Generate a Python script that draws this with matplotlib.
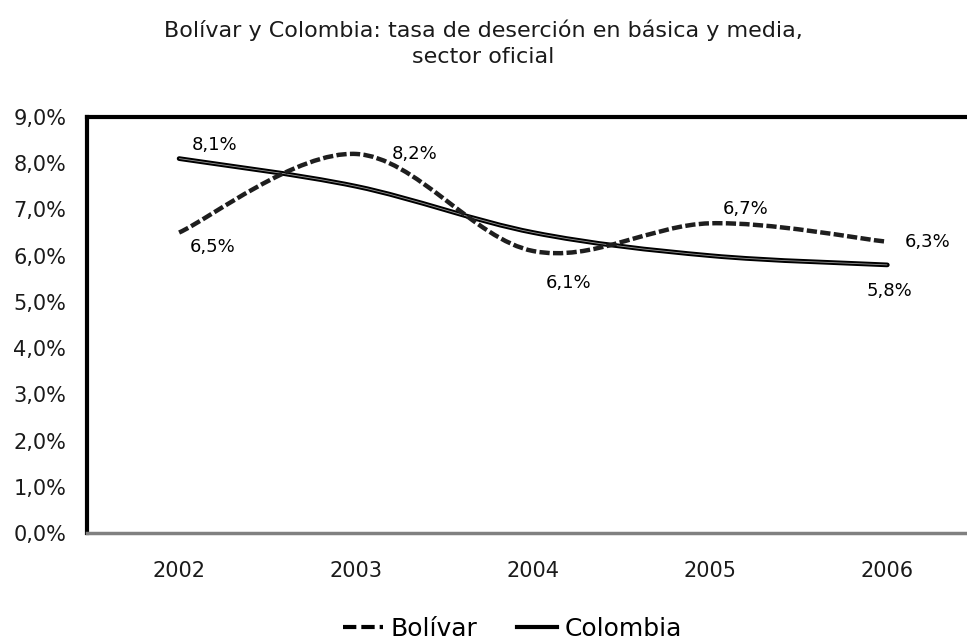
import numpy as np
import matplotlib
matplotlib.use("Agg")
import matplotlib.pyplot as plt
from matplotlib.path import Path
from matplotlib.patches import PathPatch
from matplotlib.lines import Line2D
from matplotlib.ticker import FuncFormatter

years = ["2002", "2003", "2004", "2005", "2006"]
bolivar = [6.5, 8.2, 6.1, 6.7, 6.3]
colombia = [8.1, 7.5, 6.5, 6.0, 5.8]

etiquetas_bol = ["6,5%", "8,2%", "6,1%", "6,7%", "6,3%"]
etiquetas_col = ["8,1%", "", "", "", "5,8%"]

plt.rcParams['font.family'] = ['DejaVu Sans']


def curva_suave(y):
    # curva tipo Excel (Bezier cubica, tension 1/6)
    x = np.arange(len(y), dtype=float)
    p = np.column_stack([x, np.array(y, dtype=float)])
    verts = [p[0]]
    codes = [Path.MOVETO]
    n = len(p)
    for i in range(n - 1):
        p0 = p[i - 1] if i > 0 else p[i]
        p3 = p[i + 2] if i + 2 < n else p[i + 1]
        c1 = p[i] + (p[i + 1] - p0) / 6
        c2 = p[i + 1] - (p3 - p[i]) / 6
        verts += [c1, c2, p[i + 1]]
        codes += [Path.CURVE4] * 3
    return Path(verts, codes)


fig = plt.figure(figsize=(9.67, 6.41), dpi=100)
ax = fig.add_axes([0.09, 0.1685, 0.91, 0.649])

# Colombia: linea continua
ax.add_patch(PathPatch(curva_suave(colombia), fill=False, lw=3.4, color="black", capstyle="round", zorder=3))
ax.add_patch(PathPatch(curva_suave(colombia), fill=False, lw=0.6, color="#9a9a9a", zorder=3))

# Bolívar: linea discontinua
ax.add_patch(PathPatch(curva_suave(bolivar), fill=False, lw=3.2, color="#1e1e1e",
                       linestyle=(0, (2.3, 0.75)), zorder=4))

# etiquetas de datos
fs = 13
ax.text(0 + 0.06, bolivar[0] - 0.12, etiquetas_bol[0], ha="left", va="top", fontsize=fs)
ax.text(1 + 0.33, bolivar[1], etiquetas_bol[1], ha="center", va="center", fontsize=fs)
ax.text(2 + 0.2, bolivar[2] - 0.5, etiquetas_bol[2], ha="center", va="top", fontsize=fs)
ax.text(3 + 0.2, bolivar[3] + 0.12, etiquetas_bol[3], ha="center", va="bottom", fontsize=fs)
ax.text(4 + 0.1, bolivar[4], etiquetas_bol[4], ha="left", va="center", fontsize=fs)
ax.text(0 + 0.2, colombia[0] + 0.1, etiquetas_col[0], ha="center", va="bottom", fontsize=fs)
ax.text(4 + 0.01, colombia[4] - 0.38, etiquetas_col[4], ha="center", va="top", fontsize=fs)

ax.set_xlim(-0.52, 4.45)
ax.set_ylim(0, 9)
ax.set_xticks(range(len(years)))
ax.set_xticklabels(years)
ax.set_yticks(np.arange(0, 10, 1))
ax.yaxis.set_major_formatter(FuncFormatter(lambda v, p: f"{v:.1f}%".replace(".", ",")))
ax.tick_params(axis="both", length=0, labelsize=15, colors="#1a1a1a")
ax.tick_params(axis="x", pad=20)
ax.tick_params(axis="y", pad=15)

ax.spines["right"].set_visible(False)
ax.spines["left"].set_linewidth(3)
ax.spines["top"].set_linewidth(3)
ax.spines["bottom"].set_linewidth(2.5)
ax.spines["bottom"].set_color("#808080")

fig.suptitle("Bolívar y Colombia: tasa de deserción en básica y media,\nsector oficial",
             x=0.5, y=0.97, fontsize=16, color="#1a1a1a", linespacing=1.4)

handles = [Line2D([], [], color="black", lw=3, linestyle=(0, (3.2, 1.2))),
           Line2D([], [], color="black", lw=3)]
fig.legend(handles, ["Bolívar", "Colombia"], loc="lower center", ncol=2, frameon=False,
           fontsize=18, handlelength=1.6, handletextpad=0.3, columnspacing=1.6,
           bbox_to_anchor=(0.53, -0.035))

fig.savefig("out.png", dpi=100)
